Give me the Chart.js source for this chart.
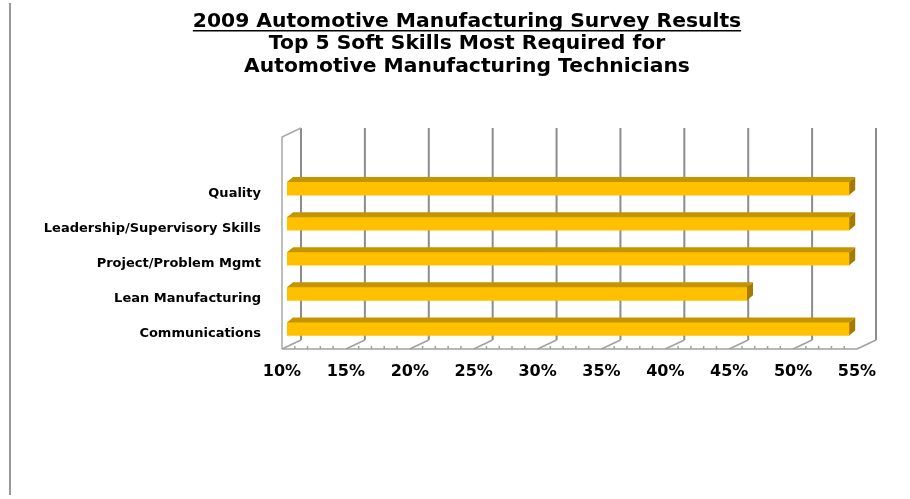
<!DOCTYPE html>
<html>
<head>
<meta charset="utf-8">
<script src="https://cdn.jsdelivr.net/npm/chart.js@4.4.0/dist/chart.umd.min.js"></script>
<style>
  body { margin: 0; background: #fff; }
  canvas { display: block; }
</style>
</head>
<body>
<canvas id="skillsChart" width="910" height="499"></canvas>
<script>
// Chart data
const titleLines = [
  '2009 Automotive Manufacturing Survey Results',
  'Top 5 Soft Skills Most Required for',
  'Automotive Manufacturing Technicians'
];
const categories = ['Quality', 'Leadership/Supervisory Skills', 'Project/Problem Mgmt', 'Lean Manufacturing', 'Communications'];
const percentValues = [54, 54, 54, 46, 54];
const xTickValues = [10, 15, 20, 25, 30, 35, 40, 45, 50, 55];

const fontFamily = '"DejaVu Sans", sans-serif';
const titleSize = 20.3;
const titleLineHeight = 22.75;
const titleTop = 10;

// depth of the fake 3D box (pixels)
const depthX = 19;
const depthY = 9;

// Draws the left page border
const borderPlugin = {
  id: 'pageBorder',
  beforeDraw(chart) {
    const ctx = chart.ctx;
    ctx.save();
    ctx.strokeStyle = '#999999';
    ctx.lineWidth = 2;
    ctx.beginPath();
    ctx.moveTo(10, 3);
    ctx.lineTo(10, 495);
    ctx.stroke();
    ctx.restore();
  }
};

// Draws back wall, side wall and floor of the 3D box
const wallPlugin = {
  id: 'walls',
  beforeDatasetsDraw(chart) {
    const ctx = chart.ctx;
    const xs = chart.scales.x;
    const area = chart.chartArea;
    const front = v => xs.getPixelForValue(v) - 5;
    const back = v => front(v) + depthX;
    const yFront = area.bottom + 2.5;
    const yBack = yFront - depthY;
    const yTop = area.top - 43;
    const minV = xTickValues[0];
    const maxV = xTickValues[xTickValues.length - 1];

    ctx.save();
    // back wall grid lines
    ctx.strokeStyle = '#8c8c8c';
    ctx.lineWidth = 2;
    xTickValues.forEach(v => {
      ctx.beginPath();
      ctx.moveTo(back(v), yTop);
      ctx.lineTo(back(v), yBack);
      ctx.stroke();
    });

    // floor
    ctx.strokeStyle = '#a0a0a0';
    ctx.lineWidth = 1.5;
    ctx.beginPath();
    ctx.moveTo(front(minV), yFront);
    ctx.lineTo(front(maxV), yFront);
    ctx.stroke();
    xTickValues.forEach(v => {
      ctx.beginPath();
      ctx.moveTo(front(v), yFront);
      ctx.lineTo(back(v), yBack);
      ctx.stroke();
    });
    // minor ticks on the front edge
    for (let v = minV + 1; v < maxV; v++) {
      if (v % 5 === 0) continue;
      ctx.beginPath();
      ctx.moveTo(front(v), yFront);
      ctx.lineTo(front(v), yFront - 3);
      ctx.stroke();
    }

    // left side wall
    ctx.strokeStyle = '#a8a8a8';
    ctx.beginPath();
    ctx.moveTo(front(minV), yFront);
    ctx.lineTo(front(minV), yTop + depthY);
    ctx.lineTo(back(minV), yTop);
    ctx.stroke();
    ctx.restore();
  }
};

// Adds top and side faces to each bar
const barDepthPlugin = {
  id: 'barDepth',
  afterDatasetsDraw(chart) {
    const ctx = chart.ctx;
    const meta = chart.getDatasetMeta(0);
    const dx = 6;
    const dy = 5;
    ctx.save();
    meta.data.forEach(bar => {
      const p = bar.getProps(['x', 'y', 'base', 'height'], true);
      const top = p.y - p.height / 2;
      const bottom = p.y + p.height / 2;
      // top face
      ctx.fillStyle = '#C59500';
      ctx.beginPath();
      ctx.moveTo(p.base, top);
      ctx.lineTo(p.base + dx, top - dy);
      ctx.lineTo(p.x + dx, top - dy);
      ctx.lineTo(p.x, top);
      ctx.closePath();
      ctx.fill();
      // side face
      ctx.fillStyle = '#A47B00';
      ctx.beginPath();
      ctx.moveTo(p.x, top);
      ctx.lineTo(p.x + dx, top - dy);
      ctx.lineTo(p.x + dx, bottom - dy);
      ctx.lineTo(p.x, bottom);
      ctx.closePath();
      ctx.fill();
    });
    ctx.restore();
  }
};

// Underlines the first title line
const underlinePlugin = {
  id: 'titleUnderline',
  afterDraw(chart) {
    const t = chart.titleBlock;
    if (!t) return;
    const ctx = chart.ctx;
    ctx.save();
    ctx.font = 'bold ' + titleSize + 'px ' + fontFamily;
    const w = ctx.measureText(titleLines[0]).width;
    const cx = (t.left + t.right) / 2;
    const y = t.top + titleTop + titleLineHeight - 2;
    ctx.strokeStyle = '#000';
    ctx.lineWidth = 1.5;
    ctx.beginPath();
    ctx.moveTo(cx - w / 2, y);
    ctx.lineTo(cx + w / 2, y);
    ctx.stroke();
    ctx.restore();
  }
};

const ctx = document.getElementById('skillsChart').getContext('2d');

const skillsChart = new Chart(ctx, {
  type: 'bar',
  data: {
    labels: categories,
    datasets: [{
      data: percentValues,
      base: xTickValues[0],
      backgroundColor: '#FFC000',
      borderWidth: 0,
      barThickness: 13
    }]
  },
  options: {
    indexAxis: 'y',
    responsive: false,
    animation: false,
    layout: {
      padding: { left: 24, right: 0, top: 0, bottom: 112.5 }
    },
    plugins: {
      legend: { display: false },
      tooltip: { enabled: false },
      title: {
        display: true,
        text: titleLines,
        color: '#000',
        font: { family: fontFamily, size: titleSize, weight: 'bold', lineHeight: titleLineHeight / titleSize },
        padding: { top: titleTop, bottom: 171 - titleTop - 3 * titleLineHeight }
      }
    },
    scales: {
      x: {
        type: 'linear',
        min: xTickValues[0],
        max: xTickValues[xTickValues.length - 1],
        afterBuildTicks(scale) {
          scale.ticks = xTickValues.map(v => ({ value: v }));
        },
        afterFit(scale) {
          scale.height = 40;
        },
        grid: { display: false, drawTicks: false },
        border: { display: false },
        ticks: {
          color: '#000',
          font: { family: fontFamily, size: 16, weight: 'bold' },
          padding: 16,
          labelOffset: -5,
          maxRotation: 0,
          callback: v => v + '%'
        }
      },
      y: {
        grid: { display: false, drawTicks: false },
        border: { display: false },
        afterFit(scale) {
          scale.width = 287 - 24;
        },
        ticks: {
          color: '#000',
          font: { family: fontFamily, size: 13, weight: 'bold' },
          padding: 26,
          labelOffset: 5
        }
      },
      // empty right-hand axis that only reserves space
      yRight: {
        axis: 'y',
        type: 'linear',
        position: 'right',
        grid: { display: false, drawTicks: false },
        border: { display: false },
        ticks: { display: false },
        afterFit(scale) {
          scale.width = 48;
        }
      }
    }
  },
  plugins: [borderPlugin, wallPlugin, barDepthPlugin, underlinePlugin]
});
</script>
</body>
</html>
